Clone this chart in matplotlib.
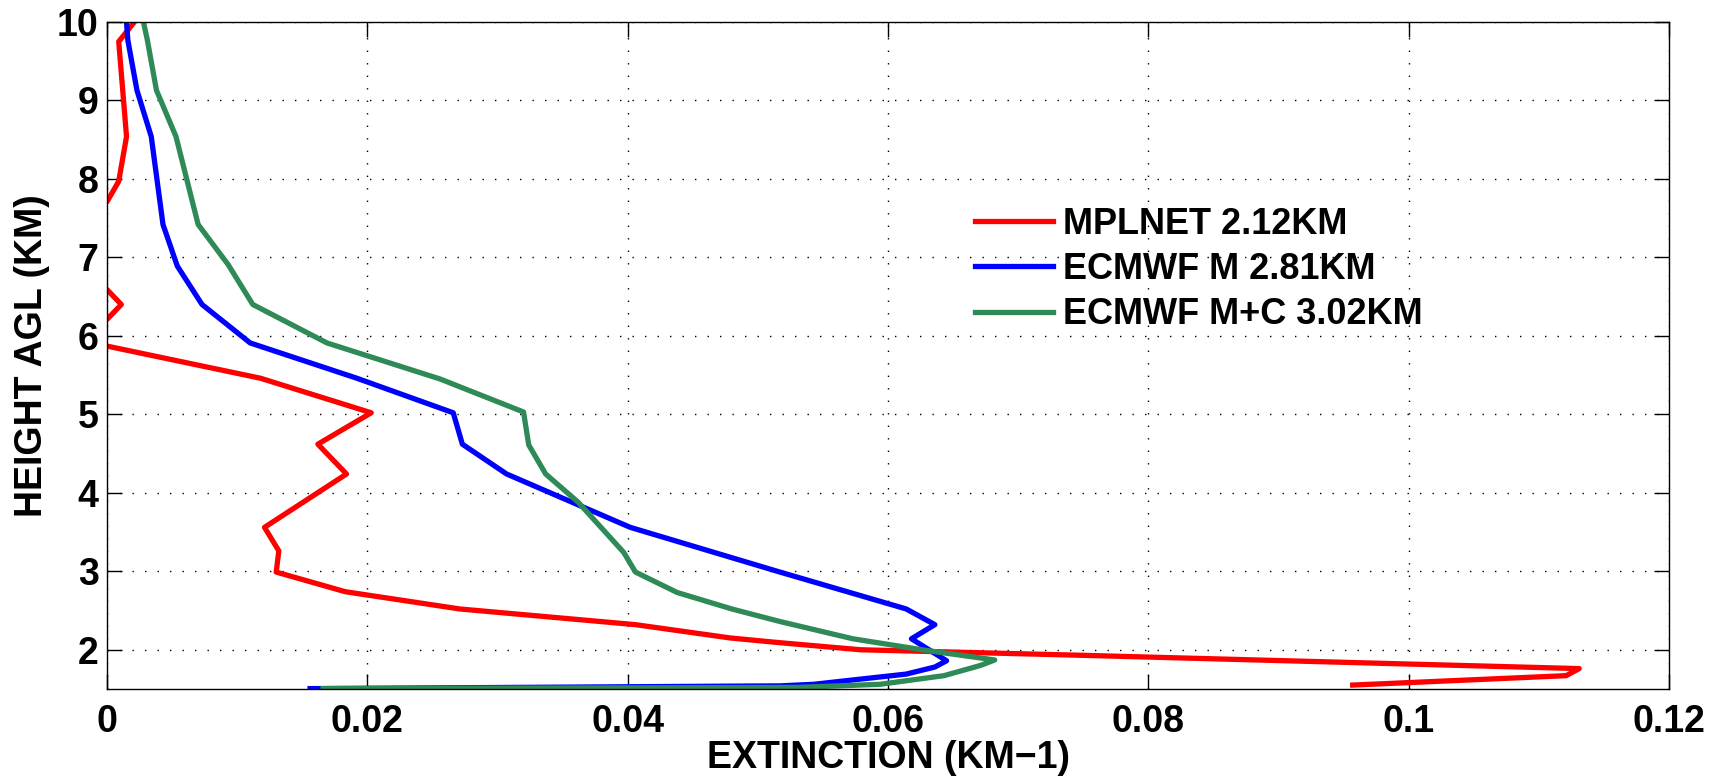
import numpy as np
import matplotlib
matplotlib.use("Agg")
import matplotlib.pyplot as plt

# MPLNET lidar extinction profile (negative values are clipped off the axes)
mpl_ext = [0.0021, 0.0009, 0.0015, 0.0009, 0.0000, -0.003, -0.003, 0.0000, 0.0011,
           0.0000, -0.003, 0.0000, 0.0118, 0.0203, 0.0162, 0.0184, 0.0121, 0.0132,
           0.0130, 0.0183, 0.0271, 0.0406, 0.0479, 0.0517, 0.0579, 0.0748, 0.1131,
           0.1121, 0.0957]
mpl_hgt = [10.0, 9.75, 8.54, 7.97, 7.71, 7.5, 6.8, 6.59, 6.40,
           6.21, 6.05, 5.87, 5.46, 5.02, 4.62, 4.24, 3.56, 3.26,
           2.99, 2.74, 2.52, 2.32, 2.15, 2.09, 2.00, 1.93, 1.76,
           1.67, 1.55]

# ECMWF mass
ecm_ext = [0.0015, 0.0016, 0.0023, 0.0034, 0.0043, 0.0054, 0.0073, 0.0110, 0.0192,
           0.0266, 0.0273, 0.0307, 0.0402, 0.0517, 0.0614, 0.0636, 0.0618, 0.0645,
           0.0636, 0.0614, 0.0581, 0.0543, 0.0517, 0.0156]
ecm_hgt = [10.0, 9.77, 9.13, 8.54, 7.42, 6.89, 6.40, 5.91, 5.46,
           5.02, 4.62, 4.24, 3.56, 2.99, 2.52, 2.32, 2.14, 1.86,
           1.78, 1.69, 1.63, 1.56, 1.54, 1.505]

# ECMWF mass + cloud
ecmc_ext = [0.0028, 0.0031, 0.0038, 0.0053, 0.0070, 0.0093, 0.0112, 0.0169, 0.0256,
            0.0320, 0.0324, 0.0337, 0.0362, 0.0397, 0.0406, 0.0438, 0.0480, 0.0517,
            0.0573, 0.0630, 0.0682, 0.0671, 0.0643, 0.0594, 0.0530, 0.0166]
ecmc_hgt = [10.0, 9.77, 9.13, 8.54, 7.42, 6.91, 6.40, 5.91, 5.45,
            5.03, 4.61, 4.24, 3.88, 3.24, 2.99, 2.73, 2.52, 2.36,
            2.14, 1.99, 1.87, 1.80, 1.67, 1.56, 1.52, 1.505]

labels = ['MPLNET 2.12KM', 'ECMWF M 2.81KM', 'ECMWF M+C 3.02KM']
xticks = [0, 0.02, 0.04, 0.06, 0.08, 0.1, 0.12]
xticklabels = ['0', '0.02', '0.04', '0.06', '0.08', '0.1', '0.12']
yticks = [2, 3, 4, 5, 6, 7, 8, 9, 10]

plt.rcParams['font.family'] = ['Liberation Sans', 'DejaVu Sans']
plt.rcParams['font.weight'] = 'bold'

fig = plt.figure(figsize=(17.17, 7.76), dpi=100)
ax = fig.add_axes([107/1717, 1 - 689/776, (1669-107)/1717, (689-22)/776])

lw = 3.8
ax.plot(mpl_ext, mpl_hgt, color='#ff0000', lw=lw, label=labels[0])
ax.plot(ecm_ext, ecm_hgt, color='#0000ff', lw=lw, label=labels[1])
ax.plot(ecmc_ext, ecmc_hgt, color='#2e8b57', lw=lw, label=labels[2])

ax.set_xlim(0, 0.12)
ax.set_ylim(1.5, 10)
ax.set_xticks(xticks)
ax.set_xticklabels(xticklabels)
ax.set_yticks(yticks)
ax.tick_params(direction='in', top=True, right=True, length=10.8, width=1,
               labelsize=27)
ax.tick_params(axis='x', pad=11)
ax.tick_params(axis='y', pad=6)
for s in ax.spines.values():
    s.set_linewidth(1.0)
ax.grid(True, color='black', linestyle=(0, (1, 8)), lw=1.0)

ax.set_xlabel('EXTINCTION (KM\u22121)', fontsize=27, fontweight='bold', labelpad=0)
ax.set_ylabel('HEIGHT AGL (KM)', fontsize=27, fontweight='bold', labelpad=5)

ax.legend(loc='upper left', bbox_to_anchor=(975/1717, 1 - 207/776),
          bbox_transform=fig.transFigure, frameon=False, fontsize=26,
          handlelength=2.15, handletextpad=0.3, labelspacing=0.28,
          borderpad=0, borderaxespad=0)

fig.savefig('out.png', dpi=100)
